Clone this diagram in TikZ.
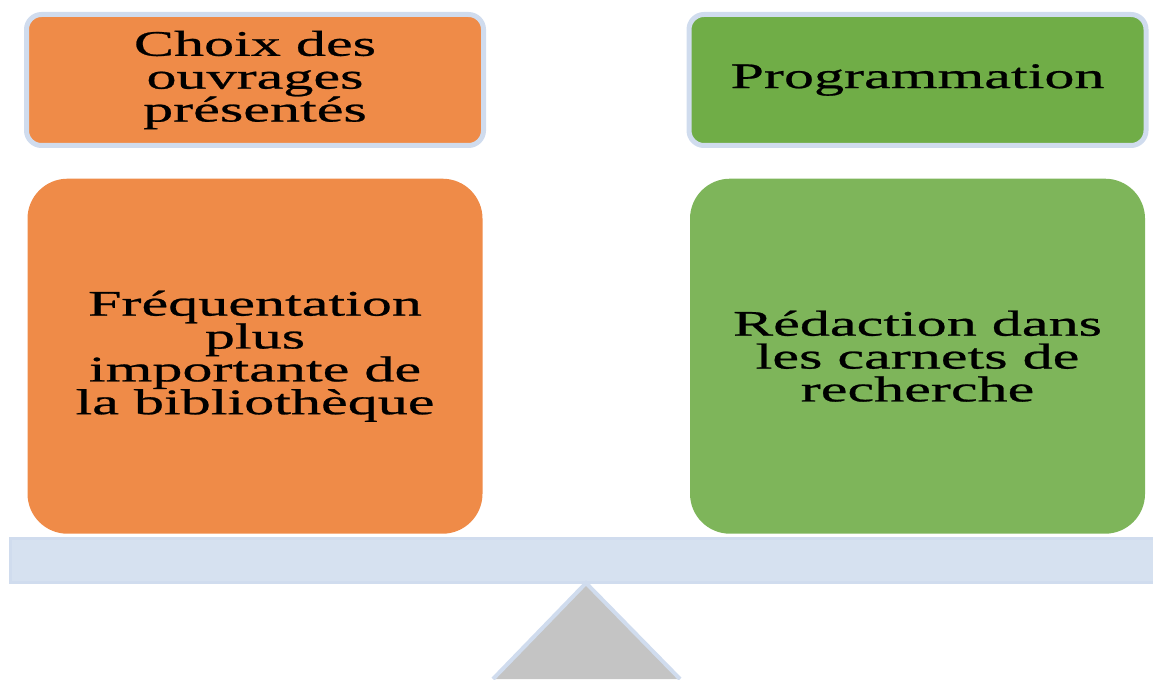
\documentclass[tikz,border=0pt]{standalone}
\usepackage{fontspec}
\setmainfont{Liberation Serif}[FakeStretch=1.67, FakeBold=0.7]
\usepackage{tikz}
\usetikzlibrary{positioning}

\definecolor{boxOrange}{HTML}{EF8B48}
\definecolor{topGreen}{HTML}{70AD47}
\definecolor{lowGreen}{HTML}{7EB55A}
\definecolor{frameBlue}{HTML}{D0DCEE}
\definecolor{beamBlue}{HTML}{D6E1F0}
\definecolor{footGray}{HTML}{C4C4C4}

\newcommand{\boxfont}{\fontsize{10.24}{9.35}\selectfont\setlength{\lineskiplimit}{-20pt}}

\tikzset{
  labeltext/.style={align=center, inner sep=0pt, font=\boxfont},
  smallbox/.style={labeltext, draw=frameBlue, line width=0.05cm, rounded corners=0.15cm,
                   minimum width=4.57cm, minimum height=1.31cm},
  bigbox/.style={labeltext, rounded corners=0.4cm, minimum width=4.55cm, minimum height=3.55cm}
}

\begin{document}
\begin{tikzpicture}
                  \useasboundingbox (0,0) rectangle (11.53,-6.79);
                  \coordinate (L) at (2.55,-0.80);
                  \coordinate (R) at (9.175,-0.80);
                  \coordinate (T) at (5.86,-5.83);
                  \coordinate (P) at (4.93,-6.79);
                  \coordinate (Q) at (6.80,-6.79);

                  % Draw the two small boxes on top
                  \node[smallbox, fill=boxOrange] (choix) at (L) {Choix des\\ouvrages\\présentés};
                  \node[smallbox, fill=topGreen] (prog) at (R) {Programmation};

                  % Draw the two big boxes below them
                  \node[bigbox, fill=boxOrange, below=0.30cm of choix] (freq) {Fréquentation\\plus\\importante de\\la bibliothèque};
                  \node[bigbox, fill=lowGreen, below=0.30cm of prog] (redac) {Rédaction dans\\les carnets de\\recherche};

                  % Beam and foot of the scale
                  \draw[frameBlue, fill=beamBlue, line width=0.03cm] (0.10,-5.38) rectangle (11.55,-5.82);
                  \fill[footGray] (P) -- (T) -- (Q) -- cycle;
                  \draw[frameBlue, line width=0.04cm] (P) -- (T) -- (Q);
              \end{tikzpicture}
\end{document}
